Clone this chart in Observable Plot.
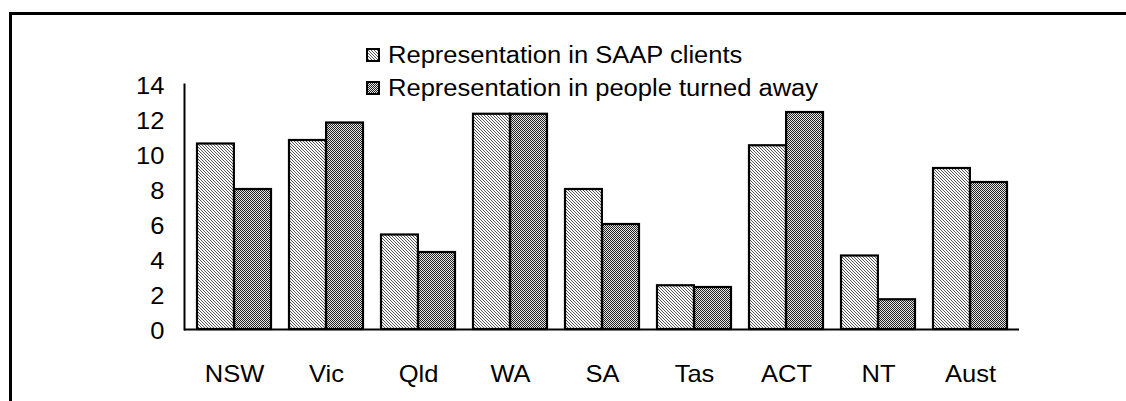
<!DOCTYPE html>
<html>
<head>
<meta charset="utf-8">
<script src="https://cdn.jsdelivr.net/npm/d3@7"></script>
<script src="https://cdn.jsdelivr.net/npm/@observablehq/plot@0.6"></script>
<style>
  html, body { margin: 0; padding: 0; background: #fff; width: 1126px; height: 401px; overflow: hidden; }
  #frame { position: absolute; left: 9px; top: 12px; width: 1200px; height: 500px;
           border-top: 3px solid #000; border-left: 3px solid #000; box-sizing: border-box; }
  #chart { position: absolute; left: 0; top: 0; }
  #legend { position: absolute; left: 0; top: 0; font-family: "Liberation Sans", Arial, sans-serif; font-size: 23px; color: #000; }
  .row { position: absolute; display: flex; align-items: center; height: 16px; white-space: nowrap; }
  .row span { display: inline-block; transform: scaleX(1.11); transform-origin: left center; line-height: 16px; margin-left: 8px; }
</style>
</head>
<body>
<svg width="0" height="0" style="position:absolute">
  <defs>
    <pattern id="patSaap" patternUnits="userSpaceOnUse" width="3" height="3">
      <rect width="3" height="3" fill="#fff"/>
      <rect x="0" y="0" width="1" height="1" fill="#555"/>
      <rect x="1" y="1" width="1" height="1" fill="#555"/>
      <rect x="2" y="2" width="1" height="1" fill="#555"/>
    </pattern>
    <pattern id="patAway" patternUnits="userSpaceOnUse" width="2" height="2">
      <rect width="2" height="2" fill="#e6e6e6"/>
      <rect x="0" y="0" width="1" height="1" fill="#222"/>
      <rect x="1" y="1" width="1" height="1" fill="#222"/>
    </pattern>
  </defs>
</svg>
<div id="frame"></div>
<div id="chart"></div>
<div id="legend"></div>
<script>
// ---- data ----
const states = ["NSW", "Vic", "Qld", "WA", "SA", "Tas", "ACT", "NT", "Aust"];
const saapClients = [10.6, 10.8, 5.4, 12.3, 8.0, 2.5, 10.5, 4.2, 9.2];
const turnedAway = [8.0, 11.8, 4.4, 12.3, 6.0, 2.4, 12.4, 1.7, 8.4];
const yTicks = [0, 2, 4, 6, 8, 10, 12, 14];
const seriesNames = ["Representation in SAAP clients", "Representation in people turned away"];
const seriesPatterns = ["patSaap", "patAway"];

const data = states.map((s, i) => ({ state: s, saap: saapClients[i], away: turnedAway[i] }));

const stretch = 1.11;

const chart = Plot.plot({
  width: 1126,
  height: 401,
  marginLeft: 184,
  marginRight: 107,
  marginTop: 84,
  marginBottom: 72,
  style: { fontFamily: "'Liberation Sans', Arial, sans-serif", fontSize: "23px", color: "#000", background: "transparent", overflow: "visible" },
  x: { domain: states, paddingInner: 0.2, paddingOuter: 0.1, label: null, axis: null },
  y: { domain: [0, 14], label: null, axis: null },
  marks: [
    Plot.barY(data, { x: "state", y: "saap", fill: `url(#${seriesPatterns[0]})`, stroke: "#000", strokeWidth: 2.2, insetRight: 37.1, insetLeft: 0 }),
    Plot.barY(data, { x: "state", y: "away", fill: `url(#${seriesPatterns[1]})`, stroke: "#000", strokeWidth: 2.2, insetLeft: 37.1, insetRight: 0 }),
    Plot.axisY({ ticks: yTicks, tickSize: 0, tickPadding: 20, dy: 2, fontSize: 23, tickFormat: d => String(d), label: null }),
    Plot.axisX({ tickSize: 0, tickPadding: 36, fontSize: 23, label: null }),
    Plot.frame({ anchor: "left", strokeWidth: 2 }),
    Plot.ruleY([0], { strokeWidth: 2 })
  ]
});

// horizontally stretched lettering, as in the reference
chart.querySelectorAll("text").forEach(t => {
  const tr = t.getAttribute("transform");
  if (tr) {
    t.setAttribute("transform", tr + ` scale(${stretch},1)`);
  } else {
    const x = +(t.getAttribute("x") || 0), y = +(t.getAttribute("y") || 0);
    t.removeAttribute("x"); t.removeAttribute("y");
    t.setAttribute("transform", `translate(${x},${y}) scale(${stretch},1)`);
  }
});
document.getElementById("chart").appendChild(chart);

// legend
const legend = document.getElementById("legend");
seriesNames.forEach((name, i) => {
  const row = document.createElement("div");
  row.className = "row";
  row.style.left = "366px";
  row.style.top = (47 + 33 * i) + "px";
  row.innerHTML = `<svg width="14" height="14" style="display:block"><rect x="1" y="1" width="12" height="12" fill="url(#${seriesPatterns[i]})" stroke="#000" stroke-width="2"/></svg><span>${name}</span>`;
  legend.appendChild(row);
});
</script>
</body>
</html>
